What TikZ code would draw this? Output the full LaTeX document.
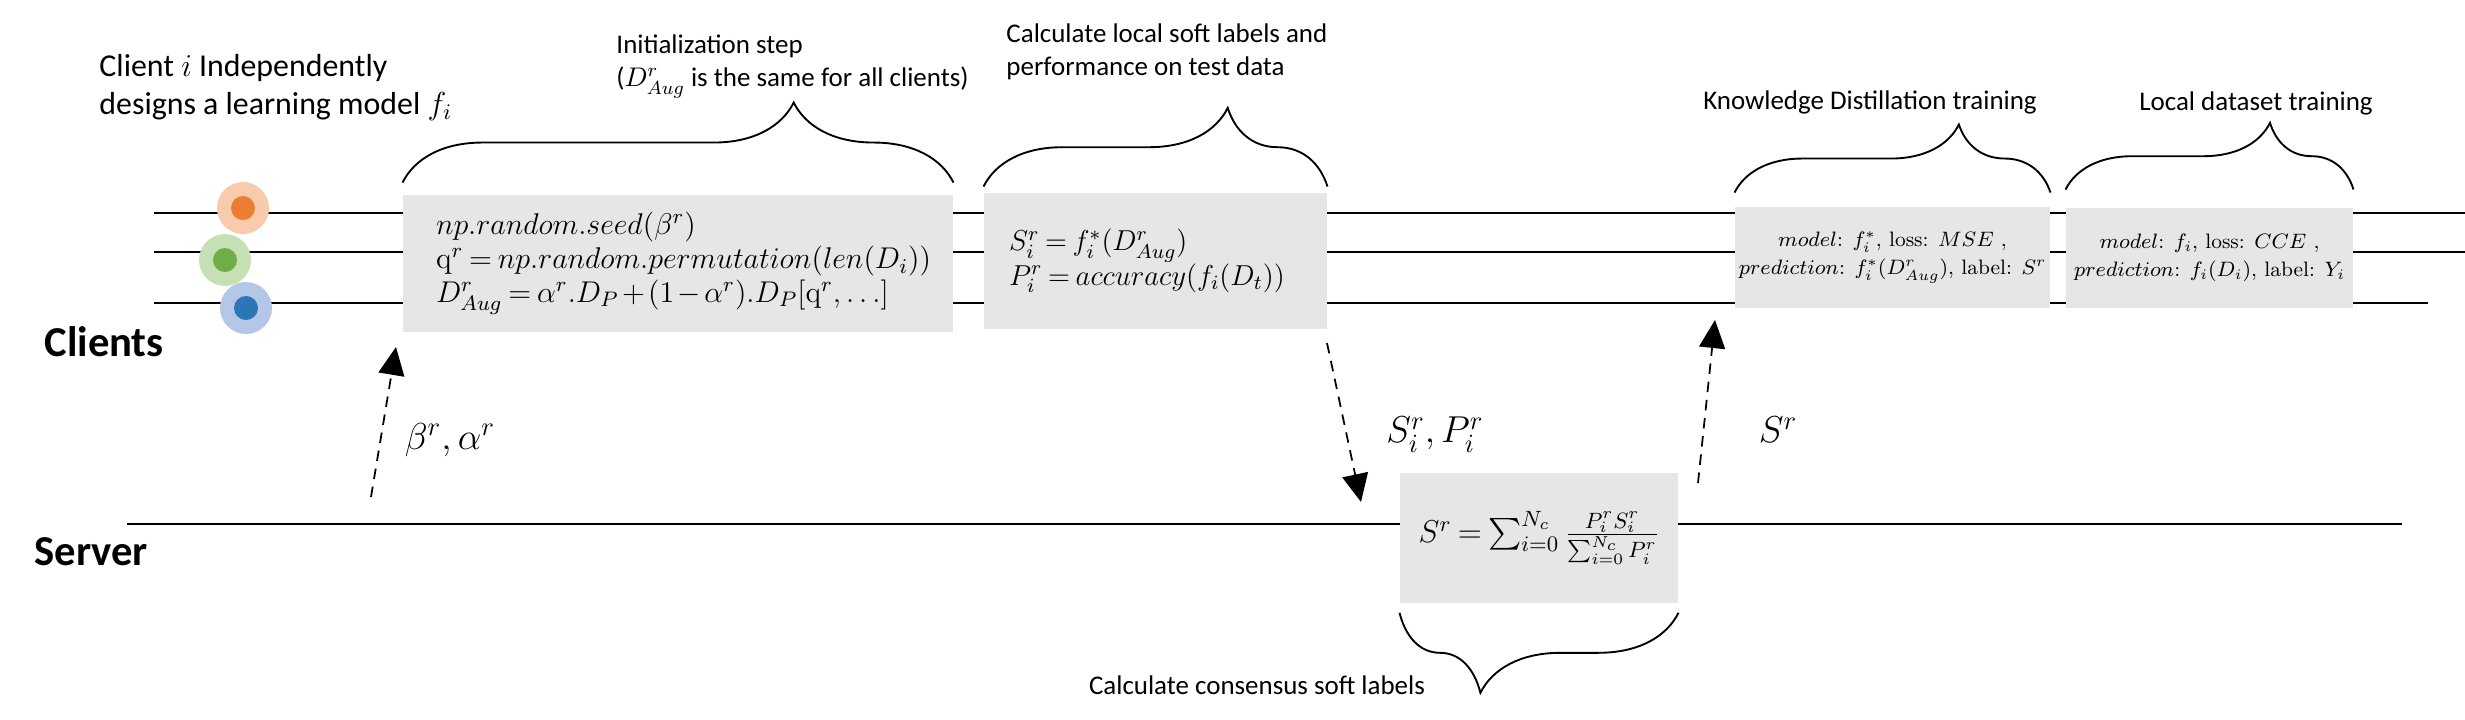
\RequirePackage{fix-cm}
\documentclass[tikz,border=0pt]{standalone}
\usepackage{amssymb}
\usepackage{amsmath}
\usepackage{fontspec}
\newfontfamily\calibri{Carlito}
\usepackage{tikz}
\usetikzlibrary{arrows.meta}
\usetikzlibrary{decorations.pathreplacing}
\definecolor{boxgray}{HTML}{E6E6E6}
\definecolor{orangeL}{HTML}{F8CBAD}
\definecolor{orangeD}{HTML}{ED7D31}
\definecolor{greenL}{HTML}{C5E0B4}
\definecolor{greenD}{HTML}{70AD47}
\definecolor{blueL}{HTML}{B4C7E7}
\definecolor{blueD}{HTML}{2E75B6}
\newcommand{\tightmath}{\medmuskip=2mu\thickmuskip=3.5mu}
\tikzstyle{ring}=[circle, minimum size=7.8mm, inner sep=0pt]
\tikzstyle{dot}=[circle, minimum size=3.6mm, inner sep=0pt]
\tikzstyle{lane}=[draw=black, line width=0.85pt]
\tikzstyle{box}=[fill=boxgray, inner sep=0pt]
\tikzstyle{note}=[font=\calibri\fontsize{11.5}{14}\selectfont, inner sep=0pt]
\tikzstyle{actor}=[anchor=west, font=\calibri\bfseries\fontsize{18.2}{22}\selectfont, inner sep=0pt]
\tikzstyle{msg}=[font=\fontsize{16}{18}\selectfont, inner sep=0pt]
\tikzstyle{curly}=[decorate, line width=0.8pt]
\tikzstyle{arrow}=[color=black, line width=0.75pt, dash pattern=on 4.5pt off 3.3pt, >={Triangle[length=4.2mm, width=3.9mm]}]

\begin{document}
\begin{tikzpicture}[x=1.5cm, y=-1.5cm]
	\useasboundingbox (0, 0) rectangle (24.65, 7.19);
	\begin{scope}
		\draw[lane] (1.54, 2.13) -- (24.65, 2.13);
		\draw[lane] (1.54, 2.52) -- (24.65, 2.52);
		\draw[lane] (1.54, 3.03) -- (24.28, 3.03);
		\draw[lane] (1.27, 5.235) -- (24.02, 5.235);
	\end{scope}
	\begin{scope}
		\node (c1) at (2.43, 2.08)[ring, fill=orangeL] {};
		\node at (c1)[dot, fill=orangeD] {};
		\node (c2) at (2.25, 2.60)[ring, fill=greenL] {};
		\node at (c2)[dot, fill=greenD] {};
		\node (c3) at (2.46, 3.08)[ring, fill=blueL] {};
		\node at (c3)[dot, fill=blueD] {};
	\end{scope}
	\begin{scope}
		\node (init) at (6.78, 2.635)[box, minimum height=2.055cm, text width=7.26cm, inner xsep=0.495cm, align=flush left, font=\fontsize{12.8}{14.4}\selectfont\tightmath] {\mbox{$np.random.seed(\beta^r)$}\\ \mbox{$\mathrm{q}^r = np.random.permutation(len(D_i))$}\\ \mbox{$D^r_{Aug} = \alpha^r.D_P + (1-\alpha^r).D_P[\mathrm{q}^r, \ldots]$}};
		\node (soft) at (11.555, 2.61)[box, minimum height=2.04cm, text width=4.395cm, inner xsep=0.375cm, align=flush left, font=\fontsize{12.3}{14.6}\selectfont\tightmath] {\mbox{$S_i^r = f_i^*(D^r_{Aug})$}\\ \mbox{$P_i^r = accuracy(f_i(D_t))$}};
		\node (kd) at (18.925, 2.575)[box, minimum width=4.725cm, minimum height=1.515cm, align=center, font=\fontsize{8.9}{11.9}\selectfont] {$model$: $f_i^*$, loss: $MSE$ ,\\ $prediction$: $f_i^*(D^r_{Aug})$, label: $S^r$};
		\node (loc) at (22.095, 2.58)[box, minimum width=4.305cm, minimum height=1.50cm, align=center, font=\fontsize{8.9}{11.9}\selectfont] {$model$: $f_i$, loss: $CCE$ ,\\ $prediction$: $f_i(D_i)$, label: $Y_i$};
		\node (cons) at (15.39, 5.38)[box, minimum width=4.17cm, minimum height=1.95cm, font=\fontsize{13.5}{15}\selectfont\tightmath] {$S^r = \sum_{i=0}^{N_c} \frac{P_i^r S_i^r}{\sum_{i=0}^{N_c} P_i^r}$};
	\end{scope}
	\begin{scope}
		\node (client) at (0.99, 0.875)[anchor=west, align=left, inner sep=0pt, font=\calibri\fontsize{13.6}{16.6}\selectfont] {Client $i$ Independently\\designs a learning model $f_i$};
		\node (initlbl) at (6.16, 0.665)[note, anchor=west, align=left] {Initialization step\\($D^r_{Aug}$ is the same for all clients)};
		\node (softlbl) at (10.06, 0.515)[note, anchor=west, align=left] {Calculate local soft labels and\\performance on test data};
		\node (kdlbl) at (18.70, 1.02)[note] {Knowledge Distillation training};
		\node (loclbl) at (22.56, 1.03)[note] {Local dataset training};
		\node (conslbl) at (12.57, 6.85)[note] {Calculate consensus soft labels};
		\node (clients) at (0.44, 3.42)[actor] {Clients};
		\node (server) at (0.34, 5.52)[actor] {Server};
	\end{scope}
	\begin{scope}
		\draw[curly, decoration={brace, amplitude=12mm, aspect=0.71}] ([yshift=1.8mm]init.north west) -- ([yshift=1.8mm]init.north east);
		\draw[curly, decoration={brace, amplitude=11.8mm, aspect=0.71}] ([yshift=0.9mm]soft.north west) -- ([yshift=0.9mm]soft.north east);
		\draw[curly, decoration={brace, amplitude=10.2mm, aspect=0.71}] ([yshift=2.1mm]kd.north west) -- ([yshift=2.1mm]kd.north east);
		\draw[curly, decoration={brace, amplitude=10mm, aspect=0.71}] ([yshift=2.7mm]loc.north west) -- ([yshift=2.7mm]loc.north east);
		\draw[curly, decoration={brace, amplitude=12mm, aspect=0.71}] ([yshift=-1.4mm]cons.south east) -- ([yshift=-1.4mm]cons.south west);
	\end{scope}
	\begin{scope}
		\coordinate (s1) at (3.71, 4.97);
		\coordinate (t1) at (3.96, 3.47);
		\coordinate (s2) at (13.27, 3.43);
		\coordinate (t2) at (13.61, 5.02);
		\coordinate (s3) at (16.98, 4.83);
		\coordinate (t3) at (17.15, 3.20);
		\path [->, arrow] (s1) edge (t1);
		\path [->, arrow] (s2) edge (t2);
		\path [->, arrow] (s3) edge (t3);
		\node (ab) at (4.50, 4.40)[msg] {$\beta^r, \alpha^r$};
		\node (sp) at (14.35, 4.35)[msg] {$S_i^r, P_i^r$};
		\node (sr) at (17.78, 4.30)[msg] {$S^r$};
	\end{scope}
\end{tikzpicture}
\end{document}
